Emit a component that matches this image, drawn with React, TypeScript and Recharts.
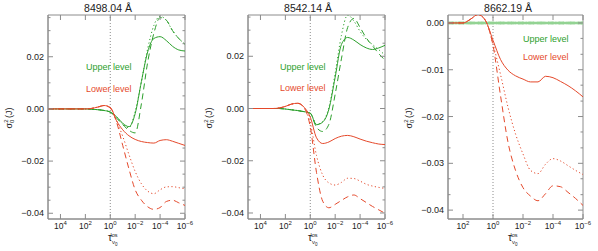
import { LineChart, Line, XAxis, YAxis, ReferenceLine, ReferenceArea } from "recharts"

const GREEN = "#2ca02c"
const PALE_GREEN = "#93d393"
const RED = "#e5492b"
const AXIS = "#8c8c8c"
const INK = "#222"
const FONT = "'Liberation Sans', Arial, sans-serif"

// plot box inside every 200px-wide panel
const TOP = 15
const BOTTOM = 219
const LEFT = 48

// log10(tau) sample points
const tauGrid = [5, 4, 3, 2.5, 2, 1.5, 1, 0.5, 0, -0.5, -1, -1.5, -2, -2.5, -3, -3.5, -4, -4.5, -5, -5.5, -6]
const tauGrid3 = [3, 2.5, 2, 1.5, 1, 0.5, 0, -0.5, -1, -1.5, -2, -2.5, -3, -3.5, -4, -4.5, -5, -5.5, -6]

// 8498.04 A
const p1GreenSolid = [0, 0, 0, 0, 0, -0.0001, -0.0003, -0.0006, -0.0012, -0.003, -0.0055, -0.0068, -0.0018, 0.0105, 0.0218, 0.027, 0.0277, 0.0262, 0.024, 0.0226, 0.0222]
const p1GreenDashed = [0, 0, 0, 0, 0, -0.0001, -0.0003, -0.0006, -0.0013, -0.0035, -0.006, -0.0082, -0.0092, 0.002, 0.0178, 0.029, 0.035, 0.034, 0.03, 0.027, 0.0248]
const p1GreenDotted = [0, 0, 0, 0, 0, -0.0001, -0.0003, -0.0006, -0.0012, -0.003, -0.0058, -0.0072, -0.001, 0.0105, 0.023, 0.032, 0.0355, 0.034, 0.03, 0.027, 0.0248]
const p1RedSolid = [0, 0, 0, 0, 0, 0.0002, 0.0007, 0.0013, 0.0006, -0.0045, -0.008, -0.0103, -0.0117, -0.0125, -0.0129, -0.0131, -0.0121, -0.0118, -0.0124, -0.0132, -0.014]
const p1RedDotted = [0, 0, 0, 0, 0, 0.0002, 0.0007, 0.0013, 0.0004, -0.0045, -0.0105, -0.0175, -0.024, -0.0287, -0.0315, -0.0325, -0.031, -0.0299, -0.0298, -0.0302, -0.0306]
const p1RedDashed = [0, 0, 0, 0, 0, 0.0002, 0.0007, 0.0013, 0.0003, -0.005, -0.014, -0.023, -0.031, -0.035, -0.0375, -0.0385, -0.0378, -0.0355, -0.035, -0.036, -0.037]

// 8542.14 A
const p2GreenSolid = [0, 0, 0, 0, -0.0002, -0.0005, -0.0008, -0.0012, -0.0018, -0.0062, -0.0052, -0.0002, 0.012, 0.0245, 0.0272, 0.0262, 0.0245, 0.0232, 0.0226, 0.0232, 0.0242]
const p2GreenDashed = [0, 0, 0, 0, -0.0002, -0.0005, -0.0008, -0.0012, -0.0018, -0.0072, -0.0088, -0.006, 0.0055, 0.019, 0.031, 0.0345, 0.031, 0.027, 0.024, 0.021, 0.0185]
const p2GreenDotted = [0, 0, 0, 0, -0.0002, -0.0005, -0.0008, -0.0012, -0.0018, -0.006, -0.005, 0.0005, 0.0135, 0.028, 0.0358, 0.0335, 0.0295, 0.0265, 0.0245, 0.0225, 0.0205]
const p2RedSolid = [0, 0, 0, 0.0002, 0.0008, 0.0017, 0.002, 0.0005, -0.0033, -0.0112, -0.0134, -0.0128, -0.0115, -0.0106, -0.0103, -0.0108, -0.0117, -0.0125, -0.0131, -0.0136, -0.0138]
const p2RedDotted = [0, 0, 0, 0.0002, 0.0008, 0.0017, 0.002, 0.0004, -0.0055, -0.018, -0.0255, -0.0285, -0.0293, -0.0283, -0.0267, -0.0268, -0.0278, -0.029, -0.0297, -0.0302, -0.0306]
const p2RedDashed = [0, 0, 0, 0.0002, 0.0008, 0.0017, 0.002, 0.0003, -0.007, -0.0245, -0.0355, -0.038, -0.0367, -0.0352, -0.0338, -0.0331, -0.0345, -0.036, -0.0375, -0.0388, -0.0401]

// 8662.19 A
const p3GreenSolid = [0, 0, 0, 0, 0, 0, 0, 0, 0, 0, 0, 0, 0, 0, 0, 0, 0, 0, 0]
const p3GreenDashed = [0, 0, 0, 0, 0, 0, 0, 0, 0, 0, 0, 0, 0, 0, 0, 0, 0, 0, 0]
const p3GreenDotted = [0, 0, 0, 0, 0, 0, 0, 0, 0, 0, 0, 0, 0, 0, 0, 0, 0, 0, 0]
const p3RedSolid = [0, 0, 0, 0.0008, 0.0018, 0.0005, -0.0037, -0.0078, -0.0101, -0.0113, -0.012, -0.0126, -0.0126, -0.0114, -0.0117, -0.0125, -0.0134, -0.0145, -0.0158]
const p3RedDotted = [0, 0, 0, 0.0008, 0.0018, 0.0005, -0.0045, -0.011, -0.018, -0.0237, -0.028, -0.0315, -0.0322, -0.0302, -0.029, -0.0295, -0.0305, -0.0315, -0.0324]
const p3RedDashed = [0, 0, 0, 0.0008, 0.0018, 0.0005, -0.0048, -0.0155, -0.0255, -0.0315, -0.0352, -0.037, -0.038, -0.0365, -0.0348, -0.035, -0.0362, -0.0375, -0.039]

const titles = ["8498.04 Å", "8542.14 Å", "8662.19 Å"]
const xTicks12 = [4, 2, 0, -2, -4, -6]
const xTicks3 = [2, 0, -2, -4, -6]
const yTicks12 = [0.035, 0.03, 0.025, 0.02, 0.015, 0.01, 0.005, 0, -0.005, -0.01, -0.015, -0.02, -0.025, -0.03, -0.035, -0.04]
const yMajor12 = [0.02, 0, -0.02, -0.04]
const yTicks3 = [0, -0.0033, -0.0067, -0.01, -0.0133, -0.0167, -0.02, -0.0233, -0.0267, -0.03, -0.0333, -0.0367, -0.04]
const yMajor3 = [0, -0.01, -0.02, -0.03, -0.04]

function rows(grid: number[], gs: number[], gd: number[], gt: number[], rs: number[], rd: number[], rt: number[]) {
  return grid.map((L, i) => ({ L, gs: gs[i], gd: gd[i], gt: gt[i], rs: rs[i], rd: rd[i], rt: rt[i] }))
}

const fmtExp = (n: number) => String(n).replace("-", "−")

function makeXTick(right: number) {
  return (props: any) => {
    const { x, payload } = props
    if (x < LEFT - 1 || x > right + 1) return <g />
    return (
      <g>
        <line x1={x} x2={x} y1={BOTTOM} y2={BOTTOM - 5} stroke={AXIS} />
        <line x1={x} x2={x} y1={TOP} y2={TOP + 5} stroke={AXIS} />
        <text x={x} y={BOTTOM + 10} textAnchor="middle" fontSize={8.5} fill={INK} fontFamily={FONT}>
          10<tspan dy={-4} fontSize={6}>{fmtExp(payload.value)}</tspan>
        </text>
      </g>
    )
  }
}

function makeYTick(majors: number[], right: number) {
  return (props: any) => {
    const { y, payload } = props
    const v = payload.value as number
    const major = majors.some((m) => Math.abs(m - v) < 1e-6)
    const len = major ? 5 : 2.5
    return (
      <g>
        <line x1={LEFT} x2={LEFT + len} y1={y} y2={y} stroke={AXIS} />
        <line x1={right} x2={right - len} y1={y} y2={y} stroke={AXIS} />
        {major && (
          <text x={LEFT - 4} y={y + 3} textAnchor="end" fontSize={9} fill={INK} fontFamily={FONT}>
            {v.toFixed(2).replace("-", "−")}
          </text>
        )}
      </g>
    )
  }
}

interface PanelProps {
  left: number
  width: number
  title: string
  data: any[]
  xDomain: [number, number]
  xTicks: number[]
  yDomain: [number, number]
  yTicks: number[]
  yMajors: number[]
  upper: [number, number]
  lower: [number, number]
  flatGreen?: boolean
}

function Panel({ left, width, title, data, xDomain, xTicks, yDomain, yTicks, yMajors, upper, lower, flatGreen }: PanelProps) {
  const right = width - 15
  const line = (key: string, color: string, dash?: string, w = 1) => (
    <Line
      key={key}
      dataKey={key}
      type="monotone"
      stroke={color}
      strokeWidth={w}
      strokeDasharray={dash}
      dot={false}
      activeDot={false}
      isAnimationActive={false}
    />
  )
  return (
    <div style={{ position: "absolute", left, top: 0, width, height: 251 }}>
      <LineChart width={width} height={251} data={data} margin={{ top: TOP, right: 15, bottom: 0, left: 8 }}>
        <ReferenceArea x1={xDomain[0]} x2={xDomain[1]} y1={yDomain[0]} y2={yDomain[1]} fill="none" stroke={AXIS} />
        <XAxis
          dataKey="L"
          type="number"
          domain={xDomain}
          reversed
          allowDataOverflow
          ticks={xTicks}
          interval={0}
          height={32}
          tickLine={false}
          axisLine={{ stroke: AXIS }}
          tick={makeXTick(right)}
        />
        <YAxis
          type="number"
          domain={yDomain}
          allowDataOverflow
          ticks={yTicks}
          interval={0}
          width={40}
          tickLine={false}
          axisLine={{ stroke: AXIS }}
          tick={makeYTick(yMajors, right)}
        />
        <ReferenceLine x={0} stroke={AXIS} strokeDasharray="1 2" />
        {flatGreen ? line("gs", PALE_GREEN, undefined, 2.5) : line("gs", GREEN)}
        {flatGreen ? line("gd", PALE_GREEN, "6 4", 2.5) : line("gd", GREEN, "6 4")}
        {flatGreen ? line("gt", PALE_GREEN, "1.2 2.5", 2.5) : line("gt", GREEN, "1.2 2.5")}
        {line("rs", RED)}
        {line("rd", RED, "6 4")}
        {line("rt", RED, "1.2 2.5")}
      </LineChart>
      <svg width={width} height={251} style={{ position: "absolute", left: 0, top: 0, pointerEvents: "none" }} fontFamily={FONT}>
        <text x={108} y={12} textAnchor="middle" fontSize={10.5} fill={INK}>{title}</text>
        <text transform={`translate(12,118) rotate(-90)`} textAnchor="middle" fontSize={9} fill={INK}>
          σ<tspan fontSize={6} dy={2}>0</tspan>
          <tspan fontSize={6} dx={-3.3} dy={-6}>2</tspan>
          <tspan dx={1.5} dy={4}>(J)</tspan>
        </text>
        <text x={108} y={241} fontSize={10} fill={INK}>
          τ<tspan fontSize={6} dy={3}>ν</tspan>
          <tspan fontSize={4.5} dy={1.5}>0</tspan>
          <tspan fontSize={5.5} dx={-7} dy={-9}>los</tspan>
        </text>
        <text x={upper[0]} y={upper[1]} fontSize={9} fill={GREEN}>Upper level</text>
        <text x={lower[0]} y={lower[1]} fontSize={9} fill={RED}>Lower level</text>
      </svg>
    </div>
  )
}

export default function App() {
  const d1 = rows(tauGrid, p1GreenSolid, p1GreenDashed, p1GreenDotted, p1RedSolid, p1RedDashed, p1RedDotted)
  const d2 = rows(tauGrid, p2GreenSolid, p2GreenDashed, p2GreenDotted, p2RedSolid, p2RedDashed, p2RedDotted)
  const d3 = rows(tauGrid3, p3GreenSolid, p3GreenDashed, p3GreenDotted, p3RedSolid, p3RedDashed, p3RedDotted)
  return (
    <div style={{ position: "absolute", left: 0, top: 0, width: 598, height: 251, background: "#fff" }}>
      <Panel left={0} width={200} title={titles[0]} data={d1} xDomain={[-6, 5]} xTicks={xTicks12}
        yDomain={[-0.0422, 0.036]} yTicks={yTicks12} yMajors={yMajor12} upper={[86, 70]} lower={[86, 92]} />
      <Panel left={200} width={200} title={titles[1]} data={d2} xDomain={[-6, 5]} xTicks={xTicks12}
        yDomain={[-0.0423, 0.0358]} yTicks={yTicks12} yMajors={yMajor12} upper={[80, 69.5]} lower={[80, 91]} />
      <Panel left={400} width={198} title={titles[2]} data={d3} xDomain={[-6, 3]} xTicks={xTicks3}
        yDomain={[-0.0419, 0.0017]} yTicks={yTicks3} yMajors={yMajor3} upper={[123, 42]} lower={[123, 60]} flatGreen />
    </div>
  )
}
